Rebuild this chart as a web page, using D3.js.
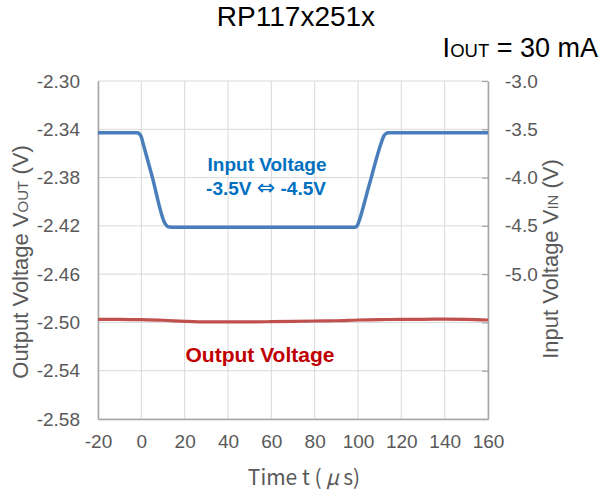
<!DOCTYPE html>
<html><head><meta charset="utf-8">
<script src="https://cdn.jsdelivr.net/npm/d3@7"></script>
<style>body{margin:0;background:#fff}svg{display:block}</style>
</head><body>
<svg id="c" width="608" height="496"></svg>
<script>
// ---- data ----
const timeTicks = [-20, 0, 20, 40, 60, 80, 100, 120, 140, 160];
const voutTicks = [-2.30, -2.34, -2.38, -2.42, -2.46, -2.50, -2.54, -2.58];
const vinTicks = [-3.0, -3.5, -4.0, -4.5, -5.0, -5.5, -6.0, -6.5];
const vinLabelTicks = [-3.0, -3.5, -4.0, -4.5, -5.0];

// Input voltage (right axis)
const vinTime   = [-20, -10, -2, -1, 0, 0.6, 5, 10.9, 12, 13, 15, 40, 70, 98, 99, 99.6, 100.1, 105, 110.9, 112, 113, 114, 116, 140, 160];
const vinValues = [-3.535, -3.535, -3.535, -3.545, -3.58, -3.629, -3.99, -4.474, -4.505, -4.513, -4.515, -4.515, -4.515, -4.515, -4.512, -4.50, -4.474, -4.09, -3.629, -3.565, -3.543, -3.537, -3.535, -3.535, -3.535];

// Output voltage (left axis)
const voutTime   = [-20, -10, 0, 10, 20, 30, 40, 50, 60, 70, 80, 90, 100, 110, 120, 130, 140, 150, 160];
const voutValues = [-2.4974, -2.4974, -2.4977, -2.4982, -2.4991, -2.4996, -2.4996, -2.4996, -2.4994, -2.4991, -2.4988, -2.4986, -2.4980, -2.4977, -2.4974, -2.4974, -2.4972, -2.4974, -2.4980];

// ---- layout ----
const X0 = 98, X1 = 488, Y0 = 81, Y1 = 419;
const svg = d3.select("#c");
svg.append("rect").attr("width", 608).attr("height", 496).attr("fill", "#fff");

const x = d3.scaleLinear().domain([-20, 160]).range([X0, X1]);
const yL = d3.scaleLinear().domain([-2.58, -2.30]).range([Y1, Y0]);
const yR = d3.scaleLinear().domain([-6.5, -3.0]).range([Y1, Y0]);

const gray = "#595959";
const gridCol = "#d9d9d9";
const axisCol = "#a6a6a6";

// gridlines
const grid = svg.append("g");
grid.selectAll("line.h").data(voutTicks).join("line")
  .attr("x1", X0).attr("x2", X1)
  .attr("y1", d => yL(d)).attr("y2", d => yL(d))
  .attr("stroke", gridCol).attr("stroke-width", 1);
grid.selectAll("line.v").data(timeTicks).join("line")
  .attr("x1", d => x(d)).attr("x2", d => x(d))
  .attr("y1", Y0).attr("y2", Y1)
  .attr("stroke", gridCol).attr("stroke-width", 1);

// left axis
const gl = svg.append("g").attr("transform", `translate(${X0},0)`)
  .call(d3.axisLeft(yL).tickValues(voutTicks).tickFormat(d => d.toFixed(2)).tickSize(0).tickPadding(18));
// bottom axis
const gb = svg.append("g").attr("transform", `translate(0,${Y1})`)
  .call(d3.axisBottom(x).tickValues(timeTicks).tickFormat(d => String(d)).tickSize(0).tickPadding(16));
// right axis
const gr = svg.append("g").attr("transform", `translate(${X1},0)`)
  .call(d3.axisRight(yR).tickValues(vinTicks).tickFormat(d => vinLabelTicks.includes(d) ? d.toFixed(1) : "").tickSizeInner(-6).tickSizeOuter(0).tickPadding(17));

[gl, gb, gr].forEach(g => {
  g.select(".domain").attr("stroke", axisCol).attr("stroke-width", 1.5);
  g.selectAll(".tick line").attr("stroke", axisCol).attr("stroke-width", 1.2);
  g.selectAll("text").attr("fill", gray).attr("font-family", "Liberation Sans, Arial, sans-serif").attr("font-size", 19);
});
gr.selectAll(".tick text").attr("x", 17);

// lines
const vinData = vinTime.map((t, i) => [t, vinValues[i]]);
const voutData = voutTime.map((t, i) => [t, voutValues[i]]);

svg.append("path").datum(voutData)
  .attr("fill", "none").attr("stroke", "#c0504d").attr("stroke-width", 3.2)
  .attr("d", d3.line().x(d => x(d[0])).y(d => yL(d[1])).curve(d3.curveMonotoneX));

svg.append("path").datum(vinData)
  .attr("fill", "none").attr("stroke", "#4a7ebb").attr("stroke-width", 3.5)
  .attr("stroke-linejoin", "round")
  .attr("d", d3.line().x(d => x(d[0])).y(d => yR(d[1])).curve(d3.curveMonotoneX));

// titles
const font = "Liberation Sans, Arial, sans-serif";
svg.append("text").attr("x", 296).attr("y", 26).attr("text-anchor", "middle")
  .attr("font-family", font).attr("font-size", 28).attr("fill", "#000").text("RP117x251x");

const iout = svg.append("text").attr("x", 598).attr("y", 57).attr("text-anchor", "end")
  .attr("font-family", font).attr("font-size", 27).attr("fill", "#000");
iout.append("tspan").text("I");
iout.append("tspan").attr("font-size", 18.5).text("OUT");
iout.append("tspan").text(" = 30 mA");

// axis titles
const lt = svg.append("text").attr("transform", "translate(28,262) rotate(-90)")
  .attr("text-anchor", "middle").attr("font-family", font).attr("font-size", 22).attr("fill", gray);
lt.append("tspan").text("Output Voltage V");
lt.append("tspan").attr("font-size", 15).text("OUT");
lt.append("tspan").text(" (V)");

const rt = svg.append("text").attr("transform", "translate(558,259) rotate(-90)")
  .attr("text-anchor", "middle").attr("font-family", font).attr("font-size", 22).attr("fill", gray);
rt.append("tspan").text("Input Voltage V");
rt.append("tspan").attr("font-size", 15).text("IN");
rt.append("tspan").text(" (V)");

const xt = svg.append("text").attr("x", 304).attr("y", 485).attr("text-anchor", "middle")
  .attr("font-family", "Noto Sans CJK JP, sans-serif").attr("font-size", 21).attr("fill", gray);
xt.append("tspan").text("Time t (\u2009");
xt.append("tspan").attr("font-style", "italic").text("μ");
xt.append("tspan").text("\u2009s)");

// annotations
svg.append("text").attr("x", 267).attr("y", 171).attr("text-anchor", "middle")
  .attr("font-family", font).attr("font-weight", "bold").attr("font-size", 19).attr("fill", "#0070c0")
  .text("Input Voltage");
const a2 = svg.append("text").attr("x", 266).attr("y", 195).attr("text-anchor", "middle")
  .attr("font-family", font).attr("font-weight", "bold").attr("font-size", 19).attr("fill", "#0070c0");
a2.append("tspan").text("-3.5V ");
a2.append("tspan").attr("font-family", "DejaVu Sans").attr("font-weight", "normal").attr("font-size", 22).text("⇔");
a2.append("tspan").text(" -4.5V");
svg.append("text").attr("x", 260).attr("y", 362).attr("text-anchor", "middle")
  .attr("font-family", font).attr("font-weight", "bold").attr("font-size", 21).attr("fill", "#c00000")
  .text("Output Voltage");
</script>
</body></html>
